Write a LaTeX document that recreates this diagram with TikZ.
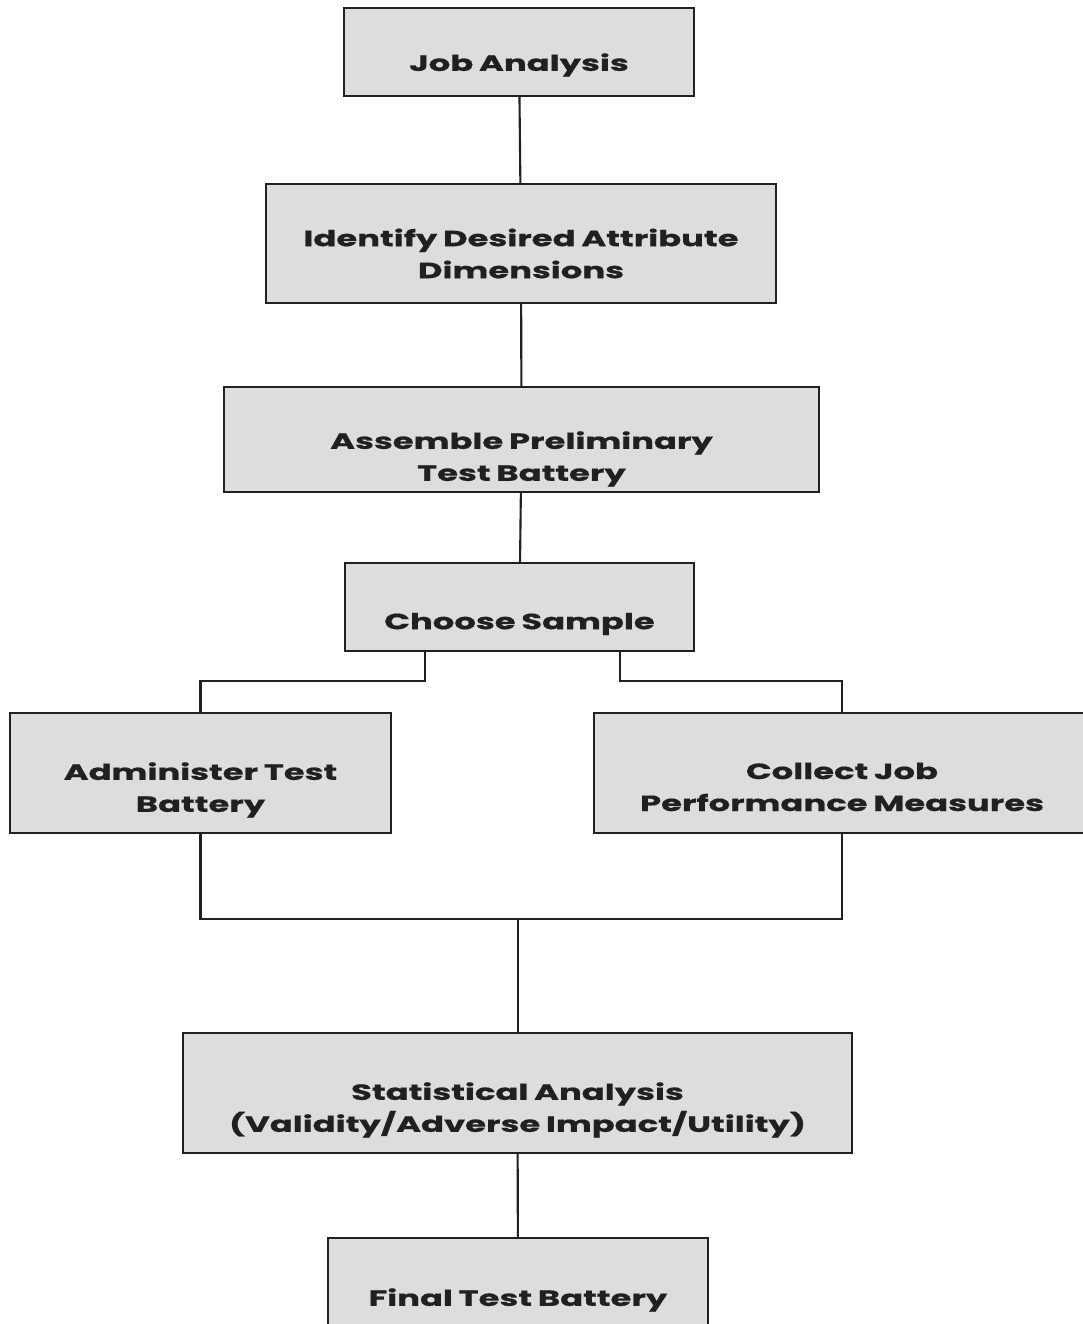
\documentclass[tikz,border=0pt]{standalone}
\usepackage{fontspec}
\setmainfont{Poppins}[FakeStretch=1.54, WordSpace=0.8, BoldFeatures={FakeBold=0.7}]
\usepackage{xcolor}
\usepackage{tikz}
\usetikzlibrary{arrows.meta,positioning,calc}

\definecolor{boxgray}{RGB}{220,221,223}
\definecolor{inkdark}{RGB}{35,31,32}

\begin{document}
\begin{tikzpicture}[
  >=Stealth,
  font=\fontsize{12.5}{18.2}\selectfont\bfseries,
  stagebox/.style={draw=inkdark, fill=boxgray, line width=1.2pt, inner sep=0pt},
  boxtext/.style={text=inkdark, align=center, inner sep=0pt},
  link/.style={draw=inkdark, line width=1.2pt}
]

\useasboundingbox (0, 0) rectangle (21.64, 26.48);

% ==================== Boxes ====================
\node[stagebox, minimum width=7.0cm, minimum height=1.76cm] (job) at (10.38, 25.44) {};
\node[boxtext] (jobt) at ([yshift=-0.26cm]job.center) {Job Analysis};

\node[stagebox, minimum width=10.2cm, minimum height=2.38cm] (identify) at (10.42, 21.61) {};
\node[boxtext] (identifyt) at ([yshift=-0.2cm]identify.center) {Identify Desired Attribute\\Dimensions};

\node[stagebox, minimum width=11.9cm, minimum height=2.1cm] (assemble) at (10.43, 17.69) {};
\node[boxtext] (assemblet) at ([yshift=-0.39cm]assemble.center) {Assemble Preliminary\\Test Battery};

\node[stagebox, minimum width=6.98cm, minimum height=1.76cm] (choose) at (10.39, 14.34) {};
\node[boxtext] (chooset) at ([yshift=-0.34cm]choose.center) {Choose Sample};

\node[stagebox, minimum width=7.62cm, minimum height=2.4cm] (admin) at (4.01, 11.02) {};
\node[boxtext] (admint) at ([yshift=-0.34cm]admin.center) {Administer Test\\Battery};

\node[stagebox, minimum width=9.92cm, minimum height=2.4cm] (collect) at (16.84, 11.02) {};
\node[boxtext] (collectt) at ([yshift=-0.28cm]collect.center) {Collect Job\\Performance Measures};

\node[stagebox, minimum width=13.38cm, minimum height=2.4cm] (stats) at (10.35, 4.62) {};
\node[boxtext] (statst) at ([yshift=-0.34cm]stats.center) {Statistical Analysis\\(Validity/Adverse Impact/Utility)};

\node[stagebox, minimum width=7.6cm, minimum height=2.4cm] (final) at (10.36, 0.52) {};
\node[boxtext] (finalt) at ([yshift=-0.04cm]final.center) {Final Test Battery};

% ==================== Connectors ====================
\draw[link] (job) -- (identify);
\draw[link] (identify) -- (assemble);
\draw[link] (assemble) -- (choose);

% split to the two parallel steps
\coordinate (splitL) at ([xshift=-1.89cm]choose.south);
\coordinate (splitR) at ([xshift=2.01cm]choose.south);
\draw[link] (splitL) -- ++(0,-0.58) -| (admin.north);
\draw[link] (splitR) -- ++(0,-0.58) -| (collect.north);

% merge into the analysis
\draw[link] (admin.south) -- ++(0,-1.7) -| (collect.south);
\coordinate (merge) at (10.36, 8.12);
\draw[link] (merge) -- (merge |- stats.north);
\draw[link] (stats) -- (final);

\end{tikzpicture}
\end{document}
